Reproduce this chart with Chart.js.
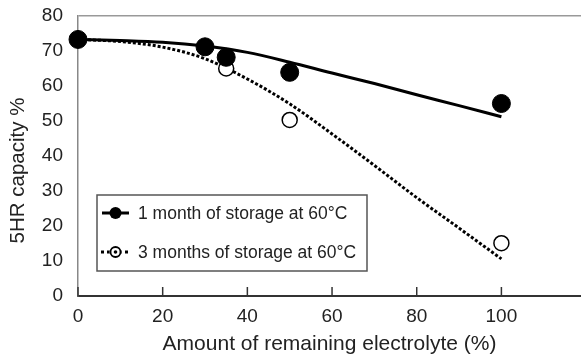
<!DOCTYPE html>
<html>
<head>
<meta charset="utf-8">
<script src="https://cdn.jsdelivr.net/npm/chart.js"></script>
<style>
  html, body { margin: 0; padding: 0; background: #fff; }
  #wrap { width: 581px; height: 361px; }
</style>
</head>
<body>
<div id="wrap"><canvas id="myChart" width="581" height="361"></canvas></div>
<script>
// measured points (x = remaining electrolyte %, y = 5HR capacity %)
const oneMonthX = [0, 30, 35, 50, 100];
const oneMonthY = [73.3, 71.2, 68.2, 63.9, 55.0];
const threeMonthX = [0, 35, 50, 100];
const threeMonthY = [73.3, 65.0, 50.3, 15.1];

// trend curves
const trendX = [0, 10, 20, 30, 40, 50, 60, 70, 80, 90, 100];
const trendOne = [73.3, 73.0, 72.5, 71.4, 69.6, 66.8, 63.7, 60.7, 57.5, 54.4, 51.2];
const trendThree = [73.3, 72.7, 71.1, 67.8, 62.0, 54.9, 46.3, 37.3, 28.1, 19.4, 10.6];

const xTicks = [0, 20, 40, 60, 80, 100];
const legendLabels = ['1 month of storage at 60°C', '3 months of storage at 60°C'];
const yTitle = '5HR capacity %';

const FONT = 'Liberation Sans, Arial, sans-serif';
const pts = (xs, ys) => xs.map((x, i) => ({x: x, y: ys[i]}));

// small ticks pointing up into the plot, y title, legend box
const extras = {
    id: 'extras',
    afterDatasetsDraw(chart) {
        const ctx = chart.ctx;
        const xs = chart.scales.x;
        const bottom = chart.chartArea.bottom;
        ctx.save();
        ctx.strokeStyle = '#333';
        ctx.lineWidth = 1.5;
        xTicks.forEach(v => {
            const px = xs.getPixelForValue(v);
            ctx.beginPath();
            ctx.moveTo(px, bottom);
            ctx.lineTo(px, bottom - 9);
            ctx.stroke();
        });

        // y axis title (sits a bit low in the original)
        ctx.save();
        ctx.translate(24, 170.5);
        ctx.rotate(-Math.PI / 2);
        ctx.fillStyle = '#222';
        ctx.font = '20.5px ' + FONT;
        ctx.textAlign = 'center';
        ctx.textBaseline = 'alphabetic';
        ctx.fillText(yTitle, 0, 0);
        ctx.restore();

        // legend
        const bx = 97, by = 195, bw = 270, bh = 76;
        ctx.fillStyle = '#fff';
        ctx.fillRect(bx, by, bw, bh);
        ctx.strokeStyle = '#555';
        ctx.lineWidth = 1.5;
        ctx.strokeRect(bx, by, bw, bh);

        const rows = [213, 252];
        // row 1: solid line + filled dot
        ctx.strokeStyle = '#000';
        ctx.lineWidth = 3;
        ctx.setLineDash([]);
        ctx.beginPath();
        ctx.moveTo(102, rows[0]);
        ctx.lineTo(129, rows[0]);
        ctx.stroke();
        ctx.fillStyle = '#000';
        ctx.beginPath();
        ctx.arc(115.5, rows[0], 6, 0, Math.PI * 2);
        ctx.fill();
        // row 2: dotted line + ring with centre dot
        ctx.setLineDash([3, 3]);
        ctx.beginPath();
        ctx.moveTo(101, rows[1]);
        ctx.lineTo(130, rows[1]);
        ctx.stroke();
        ctx.setLineDash([]);
        ctx.fillStyle = '#fff';
        ctx.beginPath();
        ctx.arc(115.5, rows[1], 6, 0, Math.PI * 2);
        ctx.fill();
        ctx.lineWidth = 1.8;
        ctx.beginPath();
        ctx.arc(115.5, rows[1], 5, 0, Math.PI * 2);
        ctx.stroke();
        ctx.fillStyle = '#000';
        ctx.beginPath();
        ctx.arc(115.5, rows[1], 1.8, 0, Math.PI * 2);
        ctx.fill();

        ctx.fillStyle = '#222';
        ctx.font = '17.5px ' + FONT;
        ctx.textBaseline = 'middle';
        ctx.textAlign = 'left';
        ctx.fillText(legendLabels[0], 138, rows[0] + 1);
        ctx.fillText(legendLabels[1], 138, rows[1] + 1);
        ctx.restore();
    }
};

const config = {
    type: 'scatter',
    data: {
        datasets: [
            {
                label: legendLabels[0],
                data: pts(oneMonthX, oneMonthY),
                backgroundColor: '#000',
                borderColor: '#000',
                pointRadius: 9,
                pointHoverRadius: 9,
                clip: false,
                order: 1
            },
            {
                label: legendLabels[1],
                data: pts(threeMonthX, threeMonthY),
                backgroundColor: '#fff',
                borderColor: '#000',
                borderWidth: 1.5,
                pointRadius: 7.5,
                pointHoverRadius: 7.5,
                clip: false,
                order: 2
            },
            {
                label: 'trend 1',
                data: pts(trendX, trendOne),
                showLine: true,
                borderColor: '#000',
                borderWidth: 3,
                pointRadius: 0,
                cubicInterpolationMode: 'monotone',
                clip: false,
                order: 3
            },
            {
                label: 'trend 3',
                data: pts(trendX, trendThree),
                showLine: true,
                borderColor: '#000',
                borderWidth: 3,
                borderDash: [3, 2],
                pointRadius: 0,
                cubicInterpolationMode: 'monotone',
                clip: false,
                order: 4
            }
        ]
    },
    options: {
        responsive: false,
        animation: false,
        layout: { autoPadding: false, padding: { top: 16, right: 0, left: 0, bottom: 0 } },
        plugins: {
            legend: { display: false },
            tooltip: { enabled: false }
        },
        scales: {
            x: {
                type: 'linear',
                min: 0,
                max: 118.8,
                afterFit: s => { s.height = 65; s.paddingRight = 0; s.paddingLeft = 0; },
                afterBuildTicks: s => { s.ticks = xTicks.map(v => ({value: v})); },
                ticks: {
                    color: '#222',
                    font: { family: FONT, size: 19 },
                    padding: 9,
                    maxRotation: 0,
                    autoSkip: false
                },
                grid: { display: false, drawTicks: false },
                border: { display: true, color: '#333', width: 2 },
                title: {
                    display: true,
                    text: 'Amount of remaining electrolyte (%)',
                    color: '#222',
                    font: { family: FONT, size: 21 },
                    padding: { top: 0, bottom: 4 }
                }
            },
            y: {
                min: 0,
                max: 80,
                afterFit: s => { s.width = 78; s.paddingTop = 0; s.paddingBottom = 0; },
                ticks: {
                    stepSize: 10,
                    color: '#222',
                    font: { family: FONT, size: 19 },
                    padding: 15
                },
                grid: {
                    drawTicks: false,
                    color: c => c.tick.value === 80 ? '#999' : 'rgba(0,0,0,0)',
                    lineWidth: 1.5
                },
                border: { display: true, color: '#888', width: 1.5 },
                title: { display: false }
            }
        }
    },
    plugins: [extras]
};

const myChart = new Chart(document.getElementById('myChart'), config);
</script>
</body>
</html>
